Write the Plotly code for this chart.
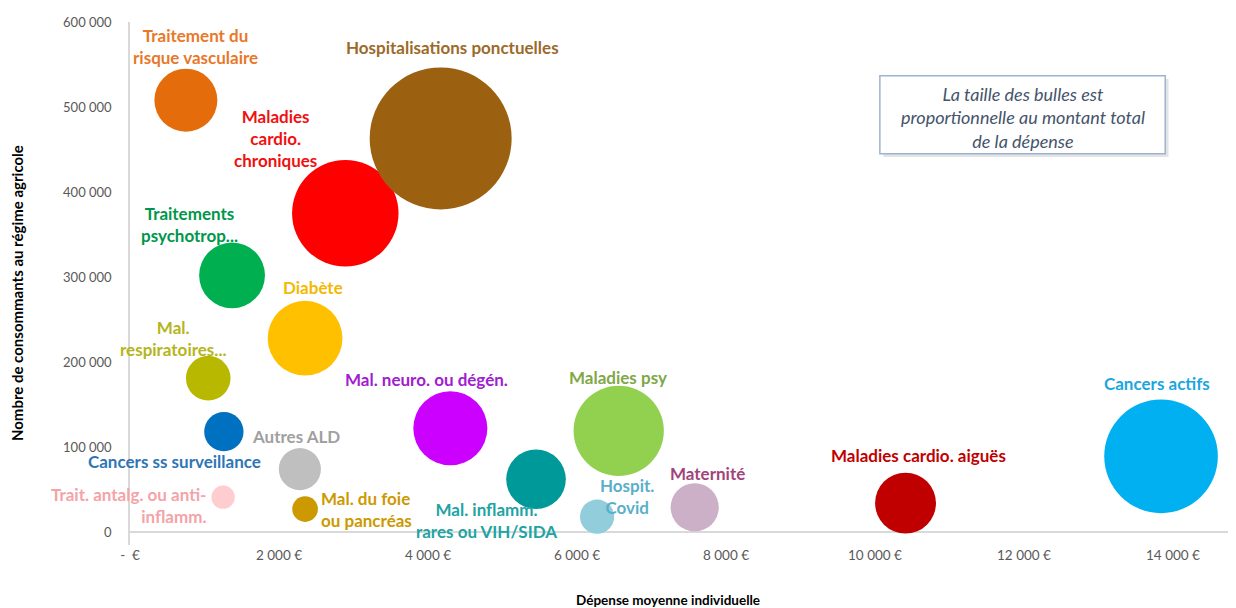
import plotly.graph_objects as go

# Poste de dépense (libellés tels qu'affichés sur le graphique)
postes = [
    "Traitement du<br>risque vasculaire",
    "Maladies<br>cardio.<br>chroniques",
    "Hospitalisations ponctuelles",
    "Traitements<br>psychotrop...",
    "Diabète",
    "Mal.<br>respiratoires...",
    "Cancers ss surveillance",
    "Autres ALD",
    "Trait. antalg. ou anti-<br>inflamm.",
    "Mal. du foie<br>ou pancréas",
    "Mal. neuro. ou dégén.",
    "Mal. inflamm.<br>rares ou VIH/SIDA",
    "Maladies psy",
    "Hospit.<br>Covid",
    "Maternité",
    "Maladies cardio. aiguës",
    "Cancers actifs",
]
# dépense moyenne individuelle (€)
depense_moy = [750, 2890, 4170, 1370, 2350, 1050, 1260, 2280, 1250, 2350,
               4300, 5450, 6560, 6270, 7580, 10410, 13840]
# nombre de consommants au régime agricole
consommants = [508000, 375000, 463000, 302000, 228000, 181000, 118000, 74000,
               41000, 27000, 122000, 62000, 119000, 18000, 29000, 34000, 89000]
# montant total de la dépense (M€) -> taille des bulles
montant_total = [380, 1085, 1930, 415, 535, 190, 148, 170, 52, 63,
                 525, 340, 780, 112, 222, 355, 1235]

couleurs = ["#E46C0A", "#FF0000", "#9C6110", "#00B050", "#FFC000", "#B8B800",
            "#0070C0", "#BFBFBF", "#FFCCD0", "#CC9900", "#CC00FF", "#009999",
            "#92D050", "#92CDDC", "#CCB0C8", "#C00000", "#00B0F0"]
couleurs_txt = ["#E8782A", "#F01010", "#9C6A2A", "#00964B", "#F5B800", "#B5B520",
                "#2E75B6", "#A0A0A0", "#F4A3A8", "#CC9900", "#A020D0", "#22A3A3",
                "#80A848", "#5AAFC8", "#A0457A", "#C00000", "#1AA6E0"]
# décalage des étiquettes par rapport au centre des bulles (px) et ancrage
decalages = [(10, 54, "center"), (-70, 75, "center"), (12, 91, "center"),
             (-43, 51, "center"), (8, 51, "center"), (-35, 40, "center"),
             (-49, -30, "center"), (-4, 33, "center"), (-15, -8, "right"),
             (14, 0, "left"), (-24, 49, "center"), (-50, -41, "center"),
             (-1, 53, "center"), (30, 20, "center"), (13, 34, "center"),
             (13, 48, "center"), (-4, 73, "center")]

x_ticks = [0, 2000, 4000, 6000, 8000, 10000, 12000, 14000]
x_labels = ["-  €", "2 000 €", "4 000 €", "6 000 €", "8 000 €", "10 000 €",
            "12 000 €", "14 000 €"]
y_ticks = [0, 100000, 200000, 300000, 400000, 500000, 600000]
y_labels = ["0", "100 000", "200 000", "300 000", "400 000", "500 000", "600 000"]

FONT = "Lato"
diam_max = 142
sizeref = 2 * max(montant_total) / diam_max ** 2

fig = go.Figure()
fig.add_trace(go.Scatter(
    x=depense_moy, y=consommants, mode="markers",
    marker=dict(size=montant_total, sizemode="area", sizeref=sizeref,
                color=couleurs, opacity=1, line=dict(width=0)),
    hoverinfo="skip", showlegend=False))

for i, p in enumerate(postes):
    dx, dy, anc = decalages[i]
    fig.add_annotation(x=depense_moy[i], y=consommants[i], text="<b>" + p + "</b>",
                       showarrow=False, xshift=dx, yshift=dy, xanchor=anc,
                       yanchor="middle", align=anc,
                       font=dict(family=FONT, size=17, color=couleurs_txt[i]))

# encadré
fig.add_shape(type="rect", xref="paper", yref="paper",
              x0=0.681, x1=0.939, y0=0.742, y1=0.891,
              line=dict(width=0), fillcolor="#E4E4E4", layer="below")
fig.add_shape(type="rect", xref="paper", yref="paper",
              x0=0.678, x1=0.936, y0=0.748, y1=0.897,
              line=dict(color="#9DB3CF", width=1.5), fillcolor="white", layer="below")
fig.add_annotation(xref="paper", yref="paper", x=0.807, y=0.818, showarrow=False,
                   xanchor="center", yanchor="middle",
                   text="<i>La taille des bulles est<br>proportionnelle au montant total<br>de la dépense</i>",
                   font=dict(family=FONT, size=18, color="#44546A"))

fig.add_annotation(xref="paper", yref="paper", x=-0.102, y=0.482, showarrow=False,
                   xanchor="center", yanchor="middle", textangle=-90,
                   text="<b>Nombre de consommants au régime agricole</b>",
                   font=dict(family=FONT, size=15, color="black"))
fig.add_annotation(xref="paper", yref="paper", x=0.486, y=-0.105, showarrow=False,
                   xanchor="center", yanchor="middle",
                   text="<b>Dépense moyenne individuelle</b>",
                   font=dict(family=FONT, size=13.5, color="black"))

# la page ajoute une marge de 8 px autour de la figure
fig.update_layout(
    width=1228, height=600,
    margin=dict(l=122, r=0, t=14, b=63),
    plot_bgcolor="white", paper_bgcolor="white",
    font=dict(family=FONT, size=13, color="#595959"),
    xaxis=dict(range=[0, 14846], tickvals=x_ticks, ticktext=x_labels,
               showgrid=False, zeroline=False, showline=False, ticks="",
               tickfont=dict(size=13.5)),
    yaxis=dict(range=[-15300, 600000], tickvals=y_ticks, ticktext=y_labels,
               showgrid=False, zeroline=True, zerolinecolor="#D9D9D9", zerolinewidth=2,
               showline=True, linecolor="#D9D9D9", linewidth=1.5, ticks="",
               ticklabelstandoff=14),
)

fig.write_html("out.html")
